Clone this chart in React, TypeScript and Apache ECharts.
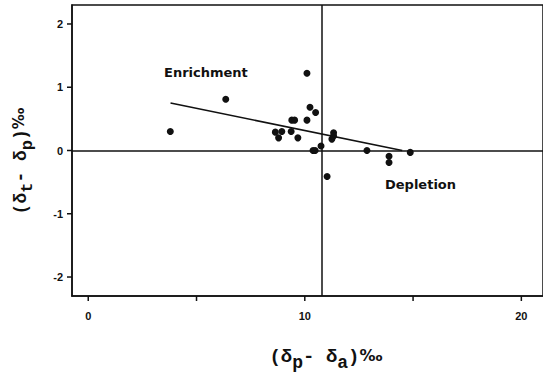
import React, { useEffect, useRef } from "react";
import * as echarts from "echarts";

const pointsX = [3.79, 6.35, 10.10, 10.24, 10.50, 9.40, 9.53, 10.10, 8.64, 8.79, 8.94, 9.37, 9.68, 10.38, 10.48, 10.75, 11.33, 11.25, 11.33, 11.03, 12.87, 13.89, 13.89, 14.87];
const pointsY = [0.30, 0.81, 1.22, 0.685, 0.60, 0.48, 0.48, 0.48, 0.29, 0.20, 0.30, 0.30, 0.20, 0.0, 0.0, 0.07, 0.28, 0.18, 0.23, -0.41, 0.0, -0.09, -0.19, -0.03];
const trendX = [3.8, 14.5];
const trendY = [0.75, 0.0];
const xTicks = [0, 5, 10, 15, 20];
const xTickLabels = [0, 10, 20];
const yTicks = [-2, -1, 0, 1, 2];
const verticalRef = 10.8;
const horizontalRef = 0;
const X_MIN = -0.75;
const Y_MIN = -2.3;

export default function App() {
  const ref = useRef<HTMLDivElement>(null);
  useEffect(() => {
    if (!ref.current) return;
    const chart = echarts.init(ref.current, null, { renderer: "svg" });
    const tickFont = { fontFamily: "Liberation Sans", fontWeight: "bold" as const, fontSize: 11, color: "#111" };
    const mono = "Liberation Mono";
    const textGraphics: any[] = [
      { type: "text", left: 164, top: 66, style: { text: "Enrichment", fontFamily: "DejaVu Sans", fontWeight: "bold", fontSize: 13, fill: "#111" } },
      { type: "text", left: 385, top: 178, style: { text: "Depletion", fontFamily: "DejaVu Sans", fontWeight: "bold", fontSize: 13, fill: "#111" } },
      {
        type: "text",
        x: 326,
        y: 357,
        style: {
          text: "{n|(δ}{s|p}{n|- δ}{s|a}{n|)}{b|‰}",
          align: "center",
          verticalAlign: "middle",
          fill: "#111",
          rich: {
            n: { fontFamily: mono, fontSize: 19, fontWeight: "bold", lineHeight: 26, fill: "#111" },
            s: { fontFamily: mono, fontSize: 18, fontWeight: "bold", lineHeight: 26, padding: [12, 0, 0, 0], fill: "#111" },
            b: { fontFamily: "DejaVu Sans", fontWeight: "bold", fontSize: 16, lineHeight: 26, padding: [0, 0, 4, 0], fill: "#111" },
          },
        },
      },
      {
        type: "text",
        x: 21,
        y: 161,
        rotation: Math.PI / 2,
        style: {
          text: "{n|(δ}{s|t}{n|- δ}{s|p}{n|)}{b|‰}",
          align: "center",
          verticalAlign: "middle",
          fill: "#111",
          rich: {
            n: { fontFamily: mono, fontSize: 18, fontWeight: "bold", lineHeight: 26, fill: "#111" },
            s: { fontFamily: mono, fontSize: 17, fontWeight: "bold", lineHeight: 26, padding: [12, 0, 0, 0], fill: "#111" },
            b: { fontFamily: "DejaVu Sans", fontWeight: "bold", fontSize: 15, lineHeight: 26, padding: [0, 0, 4, 0], fill: "#111" },
          },
        },
      },
    ];
    chart.setOption({
      animation: false,
      backgroundColor: "#fff",
      grid: { left: 72, top: 5, width: 481, height: 291, show: true, borderColor: "#111", borderWidth: 1.5, backgroundColor: "transparent" },
      xAxis: {
        type: "value",
        min: X_MIN,
        max: 21,
        splitLine: { show: false },
        axisLine: { show: true, onZero: false, lineStyle: { color: "#111", width: 1.5 } },
        axisTick: { show: false },
        axisLabel: { ...tickFont, margin: 14, customValues: xTickLabels },
      },
      yAxis: {
        type: "value",
        min: Y_MIN,
        max: 2.3,
        splitLine: { show: false },
        axisLine: { show: true, onZero: false, lineStyle: { color: "#111", width: 1.5 } },
        axisTick: { show: false },
        axisLabel: { ...tickFont, margin: 9, customValues: yTicks },
      },
      series: [
        {
          type: "scatter",
          data: pointsX.map((x, i) => [x, pointsY[i]]),
          symbol: "circle",
          symbolSize: 7,
          itemStyle: { color: "#111", opacity: 1 },
          markLine: {
            silent: true,
            symbol: "none",
            label: { show: false },
            lineStyle: { color: "#111", width: 1.5, type: "solid" },
            data: [{ xAxis: verticalRef }, { yAxis: horizontalRef }],
          },
        },
        {
          type: "line",
          data: trendX.map((x, i) => [x, trendY[i]]),
          showSymbol: false,
          lineStyle: { color: "#111", width: 1.6 },
        },
      ],
      graphic: textGraphics,
    });
    // axis ticks, positioned through the chart's own scales
    const ticks: any[] = [];
    xTicks.forEach((v) => {
      const p = chart.convertToPixel({ gridIndex: 0 }, [v, Y_MIN]) as number[];
      ticks.push({ type: "line", shape: { x1: p[0], y1: p[1], x2: p[0], y2: p[1] + 5 }, style: { stroke: "#111", lineWidth: 1.5 } });
    });
    yTicks.forEach((v) => {
      const p = chart.convertToPixel({ gridIndex: 0 }, [X_MIN, v]) as number[];
      ticks.push({ type: "line", shape: { x1: p[0] - 5, y1: p[1], x2: p[0], y2: p[1] }, style: { stroke: "#111", lineWidth: 1.5 } });
    });
    chart.setOption({ graphic: [...textGraphics, ...ticks] }, { replaceMerge: ["graphic"] });
    return () => chart.dispose();
  }, []);
  return <div ref={ref} style={{ position: "fixed", left: 0, top: 0, width: 543, height: 377 }} />;
}
